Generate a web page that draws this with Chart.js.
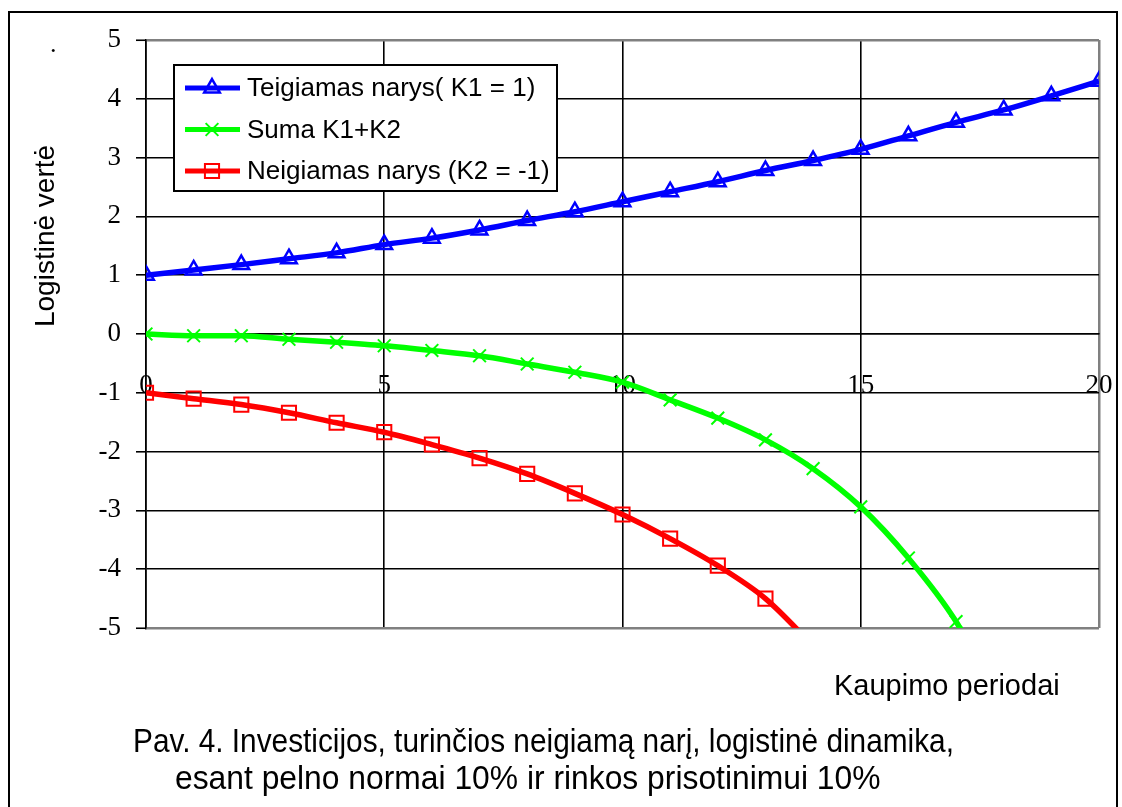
<!DOCTYPE html>
<html>
<head>
<meta charset="utf-8">
<script src="https://cdn.jsdelivr.net/npm/chart.js@4.4.0/dist/chart.umd.min.js"></script>
<style>
html,body{margin:0;padding:0;background:#fff;}
#wrap{position:relative;width:1122px;height:807px;overflow:hidden;background:#fff;}
#frame{position:absolute;left:8px;top:11px;width:1110px;height:830px;border:2px solid #000;box-sizing:border-box;pointer-events:none;}
#c{position:absolute;left:0;top:0;}
.t{position:absolute;white-space:nowrap;color:#000;font-family:"Liberation Sans",Arial,sans-serif;line-height:1;}
.cap{font-size:33px;transform-origin:0 50%;}
</style>
</head>
<body>
<div id="wrap">
<canvas id="c" width="1122" height="807"></canvas>
<div id="frame"></div>
<div class="t" style="left:50px;top:31px;font-family:'Liberation Serif',serif;font-size:26px;">.</div>
<div class="t" id="ytitle" style="left:45px;top:236px;font-size:28px;transform:translate(-50%,-50%) rotate(-90deg);">Logistinė vertė</div>
<div class="t" style="left:834px;top:671px;font-size:29px;">Kaupimo periodai</div>
<div class="t cap" style="left:133px;top:724px;transform:scaleX(0.903);">Pav. 4. Investicijos, turinčios neigiamą narį, logistinė dinamika,</div>
<div class="t cap" style="left:175px;top:761px;transform:scaleX(0.964);">esant pelno normai 10% ir rinkos prisotinimui 10%</div>
</div>
<script>
// ---- data ----
const periods = [0,1,2,3,4,5,6,7,8,9,10,11,12,13,14,15,16,17,18,19,20];
const teigiamas = [1.0,1.09,1.18,1.28,1.38,1.52,1.63,1.77,1.93,2.08,2.25,2.42,2.59,2.78,2.95,3.14,3.37,3.60,3.81,4.05,4.30];
const suma = [0,-0.03,-0.03,-0.09,-0.14,-0.20,-0.28,-0.37,-0.51,-0.65,-0.82,-1.12,-1.43,-1.80,-2.29,-2.94,-3.81,-4.89,-6.4];
const neigiamas = [-1.0,-1.10,-1.20,-1.34,-1.51,-1.67,-1.88,-2.11,-2.38,-2.71,-3.07,-3.48,-3.94,-4.50,-5.30,-6.10];
const seriesNames = ['Teigiamas narys( K1 = 1)','Suma K1+K2','Neigiamas narys (K2 = -1)'];
const xTickValues = [0,5,10,15,20];
const yTickValues = [-5,-4,-3,-2,-1,0,1,2,3,4,5];

const toXY = arr => arr.map((v,i)=>({x:periods[i], y:v}));

const legendPlugin = {
  id:'boxLegend',
  afterDatasetsDraw(chart){
    const ctx = chart.ctx, a = chart.chartArea;
    const bx = a.left + 28, by = a.top + 25, bw = 383, bh = 126;
    ctx.save();
    ctx.fillStyle = '#fff';
    ctx.fillRect(bx, by, bw, bh);
    ctx.strokeStyle = '#000'; ctx.lineWidth = 2;
    ctx.strokeRect(bx, by, bw, bh);
    chart.data.datasets.forEach((ds, i) => {
      const y = by + 23 + i*41.5;
      ctx.strokeStyle = ds.borderColor; ctx.lineWidth = 5;
      ctx.beginPath(); ctx.moveTo(bx+11, y); ctx.lineTo(bx+66, y); ctx.stroke();
      ctx.lineWidth = ds.pointBorderWidth;
      ctx.strokeStyle = ds.pointBorderColor; ctx.fillStyle = 'rgba(0,0,0,0)';
      Chart.helpers.drawPoint(ctx, {pointStyle: ds.pointStyle, radius: ds.pointRadius, borderWidth: ds.pointBorderWidth, rotation: 0}, bx+38, y);
      ctx.fillStyle = '#000';
      ctx.font = '26px "Liberation Sans", Arial, sans-serif';
      ctx.textBaseline = 'middle'; ctx.textAlign = 'left';
      ctx.fillText(ds.label, bx+73, y+1);
    });
    ctx.restore();
  }
};

const mk = (label, data, color, style, r, bw) => ({
  label, data: toXY(data), borderColor: color, borderWidth: 5.5,
  pointStyle: style, pointRadius: r, pointBorderColor: color, pointBorderWidth: bw,
  pointBackgroundColor: 'rgba(0,0,0,0)', cubicInterpolationMode: 'monotone', fill: false
});

new Chart(document.getElementById('c'), {
  type: 'line',
  data: {
    datasets: [
      mk(seriesNames[0], teigiamas, '#0000ff', 'triangle', 9, 2.5),
      mk(seriesNames[1], suma, '#00ff00', 'crossRot', 9, 2),
      mk(seriesNames[2], neigiamas, '#ff0000', 'rect', 10, 2)
    ]
  },
  options: {
    responsive: false, animation: false, devicePixelRatio: 1,
    layout: { padding: { left: 0, right: 23, top: 40, bottom: 179 } },
    plugins: { legend: { display: false }, tooltip: { enabled: false } },
    scales: {
      x: {
        type: 'linear', min: 0, max: 20, position: { y: 0 },
        afterBuildTicks: s => { s.ticks = xTickValues.map(v => ({ value: v })); },
        afterFit: s => { s.paddingLeft = 0; s.paddingRight = 0; },
        grid: { color: c => (c.tick && c.tick.value === 20) ? '#808080' : '#000', lineWidth: c => (c.tick && c.tick.value === 20) ? 2.5 : 1.6, drawTicks: false },
        border: { color: '#000', width: 1.6 },
        ticks: { color: '#000', font: { family: '"Liberation Serif", serif', size: 27 }, padding: 36, maxRotation: 0, autoSkip: false, callback: v => String(v) }
      },
      y: {
        min: -5, max: 5,
        afterBuildTicks: s => { s.ticks = yTickValues.map(v => ({ value: v })); },
        afterFit: s => { s.width = 146; },
        grid: { color: c => (c.tick && Math.abs(c.tick.value) === 5) ? '#808080' : '#000', lineWidth: c => (c.tick && Math.abs(c.tick.value) === 5) ? 2.5 : 1.6, tickLength: 10, tickColor: '#000', tickWidth: 1.6 },
        border: { color: '#000', width: 1.6 },
        ticks: { color: '#000', font: { family: '"Liberation Serif", serif', size: 27 }, padding: 15, callback: v => String(v) }
      }
    }
  },
  plugins: [legendPlugin]
});
</script>
</body>
</html>
